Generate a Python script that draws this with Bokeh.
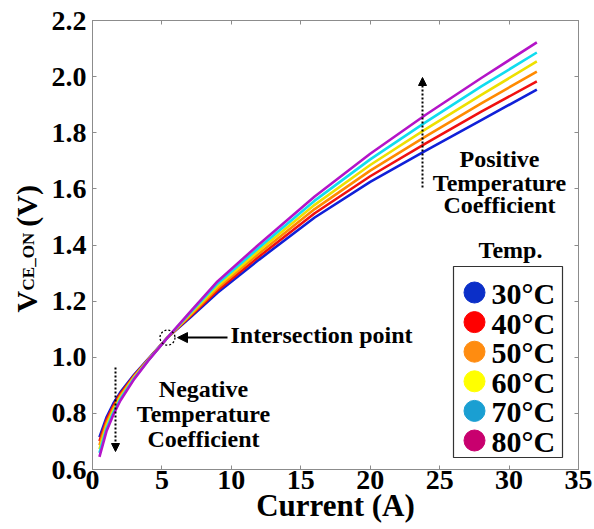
from bokeh.plotting import figure
from bokeh.layouts import row
from bokeh.models import (Range1d, LinearAxis, FixedTicker, Label, Arrow,
                          NormalHead, PrintfTickFormatter)
from bokeh.embed import file_html
from bokeh.resources import INLINE

# ---------------- data ----------------
CURRENT = [0.5, 1.0, 1.5, 2.0, 3.0, 4.0, 5.4, 7.0, 9.0, 12.0, 16.0, 20.0, 24.0, 28.0, 32.0]

V_30C = [0.715, 0.785, 0.835, 0.875, 0.938, 0.993, 1.070, 1.140, 1.230, 1.348, 1.498, 1.625, 1.736, 1.845, 1.954]
V_40C = [0.701, 0.775, 0.827, 0.869, 0.935, 0.992, 1.070, 1.144, 1.238, 1.359, 1.513, 1.645, 1.762, 1.875, 1.983]
V_50C = [0.687, 0.765, 0.819, 0.863, 0.932, 0.991, 1.070, 1.148, 1.246, 1.370, 1.528, 1.665, 1.787, 1.905, 2.018]
V_60C = [0.673, 0.755, 0.811, 0.857, 0.929, 0.989, 1.070, 1.152, 1.254, 1.380, 1.543, 1.685, 1.813, 1.935, 2.054]
V_70C = [0.659, 0.745, 0.803, 0.851, 0.925, 0.988, 1.070, 1.156, 1.262, 1.391, 1.558, 1.705, 1.838, 1.965, 2.086]
V_80C = [0.645, 0.735, 0.795, 0.845, 0.922, 0.987, 1.070, 1.160, 1.270, 1.403, 1.573, 1.725, 1.864, 1.995, 2.122]

TEMPS = ["30°C", "40°C", "50°C", "60°C", "70°C", "80°C"]
SERIES = [V_30C, V_40C, V_50C, V_60C, V_70C, V_80C]

X_TICKS = [0, 5, 10, 15, 20, 25, 30, 35]
Y_TICKS = [0.6, 0.8, 1.0, 1.2, 1.4, 1.6, 1.8, 2.0, 2.2]

# ---------------- styles ----------------
LINE_COLORS = ["#1020d8", "#f01010", "#ff8a00", "#eee000", "#10dcef", "#b414c8"]
LEGEND_COLORS = ["#0b2fc8", "#ff0000", "#ff8c10", "#ffff00", "#1a9fd2", "#c8006e"]
FONT = "Liberation Serif"
GREY = "#8c8c8c"

W, H = 594, 529
YLAB_W = 44                          # strip on the left holding the y-axis title
FL, FR, FT, FB = 92, 578, 20, 469    # frame edges in page px
X_MIN, X_MAX, Y_MIN, Y_MAX = 0, 35, 0.6, 2.2


def dx(px):
    return X_MIN + (px - FL) * (X_MAX - X_MIN) / (FR - FL)


def dy(py):
    return Y_MIN + (FB - py) * (Y_MAX - Y_MIN) / (FB - FT)


p = figure(width=W - YLAB_W, height=H, output_backend="svg", toolbar_location=None,
           x_range=Range1d(X_MIN, X_MAX), y_range=Range1d(Y_MIN, Y_MAX),
           min_border_left=FL - YLAB_W, min_border_right=W - FR,
           min_border_top=FT, min_border_bottom=H - FB,
           x_axis_location=None, y_axis_location=None)
p.grid.visible = False
p.outline_line_color = GREY
p.outline_line_width = 1
p.background_fill_color = "white"
p.border_fill_color = "white"


def make_axis(ticks, show_labels):
    ax = LinearAxis(ticker=FixedTicker(ticks=ticks))
    ax.axis_line_color = GREY
    ax.major_tick_line_color = GREY
    ax.major_tick_in = 4
    ax.major_tick_out = 0
    ax.minor_tick_line_color = None
    ax.major_label_text_font = FONT
    ax.major_label_text_font_style = "bold"
    ax.major_label_text_color = "black"
    if show_labels:
        ax.major_label_text_font_size = "28px"
    else:
        ax.major_label_text_font_size = "1px"
        ax.major_label_text_color = None
        ax.major_label_standoff = 0
    return ax


xb = make_axis(X_TICKS, True)
xb.major_label_standoff = 1
xb.axis_label = "Current (A)"
xb.axis_label_text_font = FONT
xb.axis_label_text_font_style = "bold"
xb.axis_label_text_font_size = "31px"
xb.axis_label_text_color = "black"
xb.axis_label_standoff = -4
yl = make_axis(Y_TICKS, True)
yl.major_label_standoff = 6
yl.formatter = PrintfTickFormatter(format="%.1f")
p.add_layout(xb, "below")
p.add_layout(yl, "left")
p.add_layout(make_axis(X_TICKS, False), "above")
p.add_layout(make_axis(Y_TICKS, False), "right")

# ---------------- curves ----------------
for vals, col in zip(SERIES, LINE_COLORS):
    p.line(CURRENT, vals, line_color=col, line_width=2.6)

# ---------------- intersection marker (derived from data) ----------------
spreads = [max(s[i] for s in SERIES) - min(s[i] for s in SERIES) for i in range(len(CURRENT))]
i_x = min(range(3, len(CURRENT)), key=lambda i: spreads[i])
ix, iy = CURRENT[i_x], SERIES[0][i_x]
p.scatter([ix], [iy], marker="circle", size=15, fill_alpha=0,
          line_color="black", line_dash="2 2", line_width=1.3)

# ---------------- arrows ----------------
p.add_layout(Arrow(x_start=dx(227), y_start=iy, x_end=dx(177), y_end=iy,
                   line_color="black", line_width=2,
                   end=NormalHead(size=10, fill_color="black", line_color="black")))
p.add_layout(Arrow(x_start=dx(422), y_start=dy(187), x_end=dx(422), y_end=dy(77),
                   line_color="black", line_width=2, line_dash="2 2",
                   end=NormalHead(size=8, fill_color="black", line_color="black")))
p.add_layout(Arrow(x_start=dx(115), y_start=dy(367), x_end=dx(115), y_end=dy(451),
                   line_color="black", line_width=2, line_dash="2 2",
                   end=NormalHead(size=8, fill_color="black", line_color="black")))

SHIFT = 9   # measured offset between requested and drawn baseline


def label(fig, x, y, txt, size, align="left", angle=0.0):
    fig.add_layout(Label(x=x, y=y, text=txt, text_align=align,
                         text_baseline="alphabetic", angle=angle,
                         text_font=FONT, text_font_style="bold",
                         text_font_size=size, text_color="black"))


def add_text(px, py, txt, size, align="left"):
    label(p, dx(px), dy(py - SHIFT), txt, size, align)


add_text(230, 343, "Intersection point", "24px")
for txt, by in zip(["Positive", "Temperature", "Coefficient"], [167, 191, 213]):
    add_text(499, by, txt, "24px", align="center")
for txt, by in zip(["Negative", "Temperature", "Coefficient"], [397, 422, 447]):
    add_text(203, by, txt, "24px", align="center")

# ---------------- legend (built manually) ----------------
LEG_L, LEG_R, LEG_T, LEG_B = 453, 562, 266, 457
p.quad(left=[dx(LEG_L)], right=[dx(LEG_R)], top=[dy(LEG_T)], bottom=[dy(LEG_B)],
       fill_color="white", line_color="#333333", line_width=1.2)
add_text(510, 258, "Temp.", "24px", align="center")
leg_y = [292 + 29.6 * i for i in range(len(TEMPS))]
p.scatter([dx(474)] * len(TEMPS), [dy(v) for v in leg_y], marker="circle", size=21,
          fill_color=LEGEND_COLORS, line_color=LEGEND_COLORS)
for t, yy in zip(TEMPS, leg_y):
    add_text(491, yy + 10, t, "30px")

# ---------------- y-axis title strip (V with subscript CE_ON) ----------------
yt = figure(width=YLAB_W, height=H, output_backend="svg", toolbar_location=None,
            x_range=Range1d(0, YLAB_W), y_range=Range1d(0, H),
            min_border_left=0, min_border_right=0, min_border_top=0, min_border_bottom=0,
            x_axis_location=None, y_axis_location=None)
yt.grid.visible = False
yt.outline_line_color = None
yt.background_fill_color = "white"
yt.border_fill_color = "white"
label(yt, 35 - SHIFT, H - (318 + 26), "V", "30px", angle=1.5708)
label(yt, 37 - SHIFT, H - (292 + 26), "CE_ON", "17px", angle=1.5708)
label(yt, 35 - SHIFT, H - (217 + 26), "(V)", "30px", angle=1.5708)

layout = row(yt, p, spacing=0)
open("out.html", "w").write(file_html(layout, INLINE))
